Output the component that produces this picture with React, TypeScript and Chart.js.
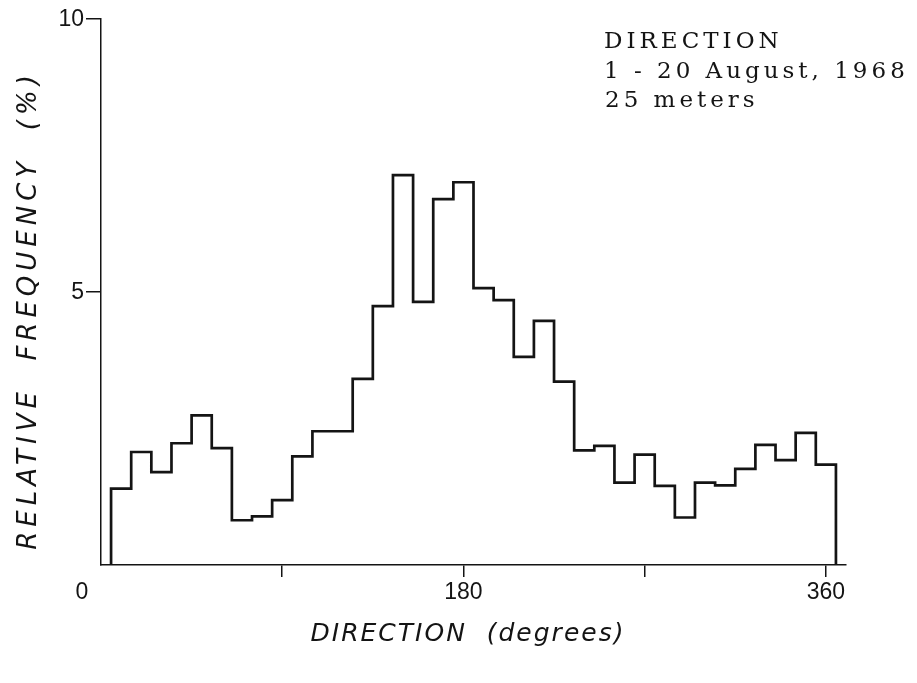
import React, { useEffect, useRef } from "react";
import { Chart, registerables } from "chart.js";

Chart.register(...registerables);

// Bin centres (degrees) and relative frequency (%) per 10-degree bin
const binCenters = [
  10, 20, 30, 40, 50, 60, 70, 80, 90, 100, 110, 120,
  130, 140, 150, 160, 170, 180, 190, 200, 210, 220, 230, 240,
  250, 260, 270, 280, 290, 300, 310, 320, 330, 340, 350, 360,
];
const frequency = [
  1.40, 2.07, 1.70, 2.23, 2.74, 2.14, 0.82, 0.89, 1.19, 1.99, 2.45, 2.45,
  3.41, 4.74, 7.14, 4.82, 6.70, 7.01, 5.07, 4.85, 3.81, 4.47, 3.36, 2.10,
  2.18, 1.51, 2.02, 1.45, 0.87, 1.51, 1.46, 1.76, 2.20, 1.92, 2.42, 1.84,
];
const binWidth = 10;

const xTickValues = [0, 90, 180, 270, 360];
const xLabelValues = [0, 180, 360];
const xLabels = ["0", "180", "360"];
const yTickValues = [0, 5, 10];
const yLabelValues = [5, 10];
const yLabels = ["5", "10"];

const xTitle = "DIRECTION  (degrees)";
const yTitle = "RELATIVE  FREQUENCY  (%)";
const noteLines = ["DIRECTION", "1 - 20 August, 1968", "25 meters"];

const INK = "#141414";

const textPlugin = {
  id: "textPlugin",
  afterDraw(chart: any) {
    const ctx = chart.ctx as CanvasRenderingContext2D;
    const xs = chart.scales.x;
    const ys = chart.scales.y;
    ctx.save();
    ctx.fillStyle = INK;

    // x tick labels
    ctx.font = '23px "Liberation Sans"';
    ctx.textAlign = "center";
    ctx.textBaseline = "middle";
    xLabelValues.forEach((v, i) => {
      let px = xs.getPixelForValue(v);
      if (v === 0) px -= 19;
      ctx.fillText(xLabels[i], px, 593);
    });

    // y tick labels
    ctx.textAlign = "right";
    yLabelValues.forEach((v, i) => {
      const py = ys.getPixelForValue(v);
      ctx.fillText(yLabels[i], ys.left - 2, py + 1);
    });

    // x title
    ctx.font = 'italic 25px "DejaVu Sans"';
    (ctx as any).letterSpacing = "2px";
    ctx.textAlign = "center";
    ctx.fillText(xTitle, 468, 634);

    // y title
    ctx.save();
    ctx.translate(29, 310);
    ctx.rotate(-Math.PI / 2);
    ctx.font = 'italic 26px "DejaVu Sans"';
    (ctx as any).letterSpacing = "5px";
    ctx.fillText(yTitle, 0, 0);
    ctx.restore();

    // note
    ctx.font = '23px "DejaVu Serif"';
    (ctx as any).letterSpacing = "4px";
    ctx.textAlign = "left";
    ctx.textBaseline = "alphabetic";
    ctx.fillText(noteLines[0], 604, 48);
    ctx.fillText(noteLines[1], 604, 78);
    ctx.fillText(noteLines[2], 605, 107);

    ctx.restore();
  },
};

export default function App() {
  const canvasRef = useRef<HTMLCanvasElement | null>(null);

  useEffect(() => {
    const canvas = canvasRef.current;
    if (!canvas) return;

    const points: { x: number; y: number }[] = [];
    points.push({ x: binCenters[0] - binWidth / 2, y: 0 });
    binCenters.forEach((c, i) => {
      points.push({ x: c - binWidth / 2, y: frequency[i] });
      points.push({ x: c + binWidth / 2, y: frequency[i] });
    });
    points.push({ x: binCenters[binCenters.length - 1] + binWidth / 2, y: 0 });

    const tickColor = (ctx: any) =>
      ctx.tick && ctx.tick.value === 0 ? "rgba(0,0,0,0)" : INK;

    const chart = new Chart(canvas, {
      type: "line",
      data: {
        datasets: [
          {
            data: points,
            borderColor: INK,
            borderWidth: 2.7,
            borderJoinStyle: "miter",
            pointRadius: 0,
            fill: false,
            tension: 0,
          },
        ],
      },
      options: {
        responsive: false,
        animation: false,
        layout: { padding: { left: 86, right: 71, top: 19, bottom: 106 } },
        plugins: {
          legend: { display: false },
          tooltip: { enabled: false },
          title: { display: false },
        },
        scales: {
          x: {
            type: "linear",
            min: 0,
            max: 370,
            afterBuildTicks: (scale: any) => {
              scale.ticks = xTickValues.map((v) => ({ value: v }));
            },
            ticks: { display: false },
            grid: {
              drawOnChartArea: false,
              drawTicks: true,
              tickLength: 12,
              color: tickColor,
              lineWidth: 1.5,
            },
            border: { display: true, color: INK, width: 1.5 },
          },
          y: {
            type: "linear",
            min: 0,
            max: 10,
            afterBuildTicks: (scale: any) => {
              scale.ticks = yTickValues.map((v) => ({ value: v }));
            },
            ticks: { display: false },
            grid: {
              drawOnChartArea: false,
              drawTicks: true,
              tickLength: 15,
              color: tickColor,
              lineWidth: 1.5,
            },
            border: { display: true, color: INK, width: 1.5 },
          },
        },
      } as any,
      plugins: [textPlugin],
    });

    return () => chart.destroy();
  }, []);

  return (
    <div style={{ position: "absolute", left: 0, top: 0, width: 917, height: 683, background: "#fff" }}>
      <canvas ref={canvasRef} width={917} height={683} style={{ display: "block" }} />
    </div>
  );
}
